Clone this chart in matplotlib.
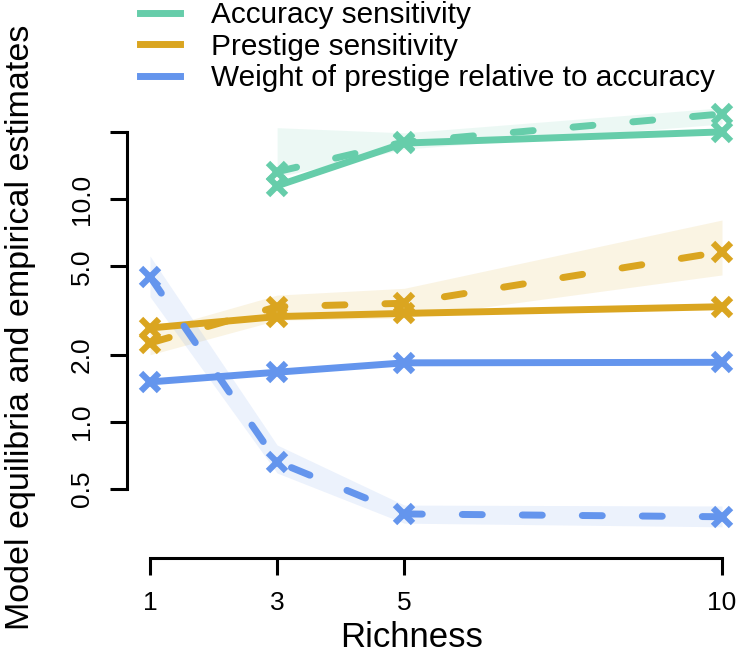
import matplotlib.pyplot as plt
from matplotlib.lines import Line2D

plt.rcParams['font.family'] = ['Liberation Sans', 'DejaVu Sans']
plt.rcParams['lines.scale_dashes'] = False

richness = [1, 3, 5, 10]

# accuracy sensitivity (no value at richness 1)
acc_x = [3, 5, 10]
acc_model = [11.5, 17.9, 20.1]
acc_emp = [13.3, 18.1, 24.2]
acc_lo = [12.6, 16.8, 21.8]
acc_hi = [21.0, 19.9, 25.8]

# prestige sensitivity
pre_model = [2.64, 2.97, 3.07, 3.29]
pre_emp = [2.26, 3.29, 3.41, 5.81]
pre_lo = [2.0, 2.86, 2.93, 4.57]
pre_hi = [2.55, 3.71, 3.98, 8.07]

# weight of prestige relative to accuracy
wt_model = [1.51, 1.67, 1.84, 1.85]
wt_emp = [4.49, 0.661, 0.385, 0.374]
wt_lo = [3.65, 0.588, 0.35, 0.337]
wt_hi = [5.56, 0.786, 0.422, 0.418]

labels = ['Accuracy sensitivity', 'Prestige sensitivity',
          'Weight of prestige relative to accuracy']
colors = ['#66CDAA', '#DAA520', '#6495ED']

fig = plt.figure(figsize=(7.41, 6.57), dpi=100)
ax = fig.add_axes([127 / 741, 99 / 657, 614 / 741, 458 / 657])

series = [
    (acc_x, acc_model, acc_emp, acc_lo, acc_hi, colors[0]),
    (richness, pre_model, pre_emp, pre_lo, pre_hi, colors[1]),
    (richness, wt_model, wt_emp, wt_lo, wt_hi, colors[2]),
]

for xs, mod, emp, lo, hi, c in series:
    ax.fill_between(xs, lo, hi, color=c, alpha=0.12, lw=0)

for xs, mod, emp, lo, hi, c in series:
    ax.plot(xs, mod, color=c, lw=5, solid_capstyle='round')
    ax.plot(xs, emp, color=c, lw=5, dashes=(14.4, 28.8), dash_capstyle='round')
    ax.plot(xs, mod, ls='none', marker='x', ms=13, mew=4.5, color=c)
    ax.plot(xs, emp, ls='none', marker='x', ms=13, mew=4.5, color=c)

ax.set_yscale('log')
ax.set_xlim(1 - 23 / 63.56, 10 + 19 / 63.56)
ax.set_ylim(0.244, 27.96)

for s in ['top', 'right']:
    ax.spines[s].set_visible(False)
ax.spines['left'].set_bounds(0.5, 20)
ax.spines['bottom'].set_bounds(1, 10)
ax.spines['left'].set_linewidth(2.2)
ax.spines['bottom'].set_linewidth(2.2)

ax.set_xticks(richness)
ax.set_xticklabels(['1', '3', '5', '10'])
ax.set_yticks([0.5, 1, 2, 5, 10, 20])
ax.set_yticklabels(['0.5', '1.0', '2.0', '5.0', '10.0', ''], rotation=90, va='center')
ax.minorticks_off()
ax.tick_params(axis='both', labelsize=19, width=2.2, length=12)
ax.tick_params(axis='x', pad=12)
ax.tick_params(axis='y', pad=12)

ax.set_xlabel('Richness', fontsize=25)
ax.xaxis.set_label_coords(0.464, -0.138)
ax.set_ylabel('Model equilibria and empirical estimates', fontsize=24.5)
ax.yaxis.set_label_coords(-0.148, 0.504)

handles = [Line2D([0], [0], color=c, lw=5) for c in colors]
fig.legend(handles, labels, loc='upper left', bbox_to_anchor=(140 / 741, 1.0 - 1 / 657),
           frameon=False, fontsize=21.4, handlelength=1.35, handletextpad=1.05,
           labelspacing=0.12, borderpad=0, borderaxespad=0)

fig.savefig('out.png', dpi=100)
